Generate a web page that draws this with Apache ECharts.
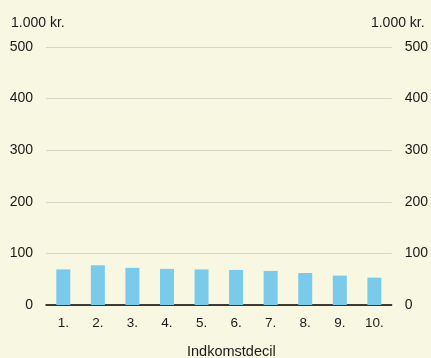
<!DOCTYPE html>
<html><head><meta charset="utf-8">
<script src="https://cdn.jsdelivr.net/npm/echarts@6/dist/echarts.min.js"></script>
<style>html,body{margin:0;padding:0;background:#f8f7e2;}#c{width:431px;height:358px;}</style>
</head><body><div id="c"></div>
<script>
var categories = ['1.', '2.', '3.', '4.', '5.', '6.', '7.', '8.', '9.', '10.'];
var values = [69, 77, 72, 70, 69, 68, 66, 62, 57, 53];
var unitLabel = '1.000 kr.';
var xTitle = 'Indkomstdecil';

var font = 'Liberation Sans, Arial, sans-serif';
var chart = echarts.init(document.getElementById('c'), null, {renderer: 'canvas'});
var yCommon = {
  type: 'value', min: 0, max: 500, interval: 100,
  name: unitLabel, nameGap: 17,
  axisLine: {show: false}, axisTick: {show: false},
  axisLabel: {color: '#1a1a1a', fontSize: 14, fontFamily: font, margin: 13},
  splitLine: {lineStyle: {color: '#d8d6c2', width: 1}}
};
chart.setOption({
  backgroundColor: '#f8f7e2',
  animation: false,
  grid: {left: 46, right: 38, top: 47, bottom: 53},
  xAxis: {
    type: 'category', data: categories,
    axisLine: {lineStyle: {color: '#000', width: 1.5}},
    axisTick: {length: 5, lineStyle: {color: '#000'}},
    axisLabel: {color: '#1a1a1a', fontSize: 13.5, fontFamily: font, margin: 11}
  },
  yAxis: [
    Object.assign({}, yCommon, {position: 'left',
      nameTextStyle: {color: '#1a1a1a', fontSize: 14, fontFamily: font, align: 'left', padding: [0, 0, 0, -35]}}),
    Object.assign({}, yCommon, {position: 'right',
      nameTextStyle: {color: '#1a1a1a', fontSize: 14, fontFamily: font, align: 'right', padding: [0, -33, 0, 0]}})
  ],
  graphic: [{
    type: 'text', left: 187, top: 344,
    style: {text: xTitle, fill: '#1a1a1a', fontSize: 14.5, fontFamily: font}
  }],
  series: [{
    type: 'bar', data: values, barWidth: 14,
    itemStyle: {color: '#7acbe9'}
  }]
});
</script></body></html>
